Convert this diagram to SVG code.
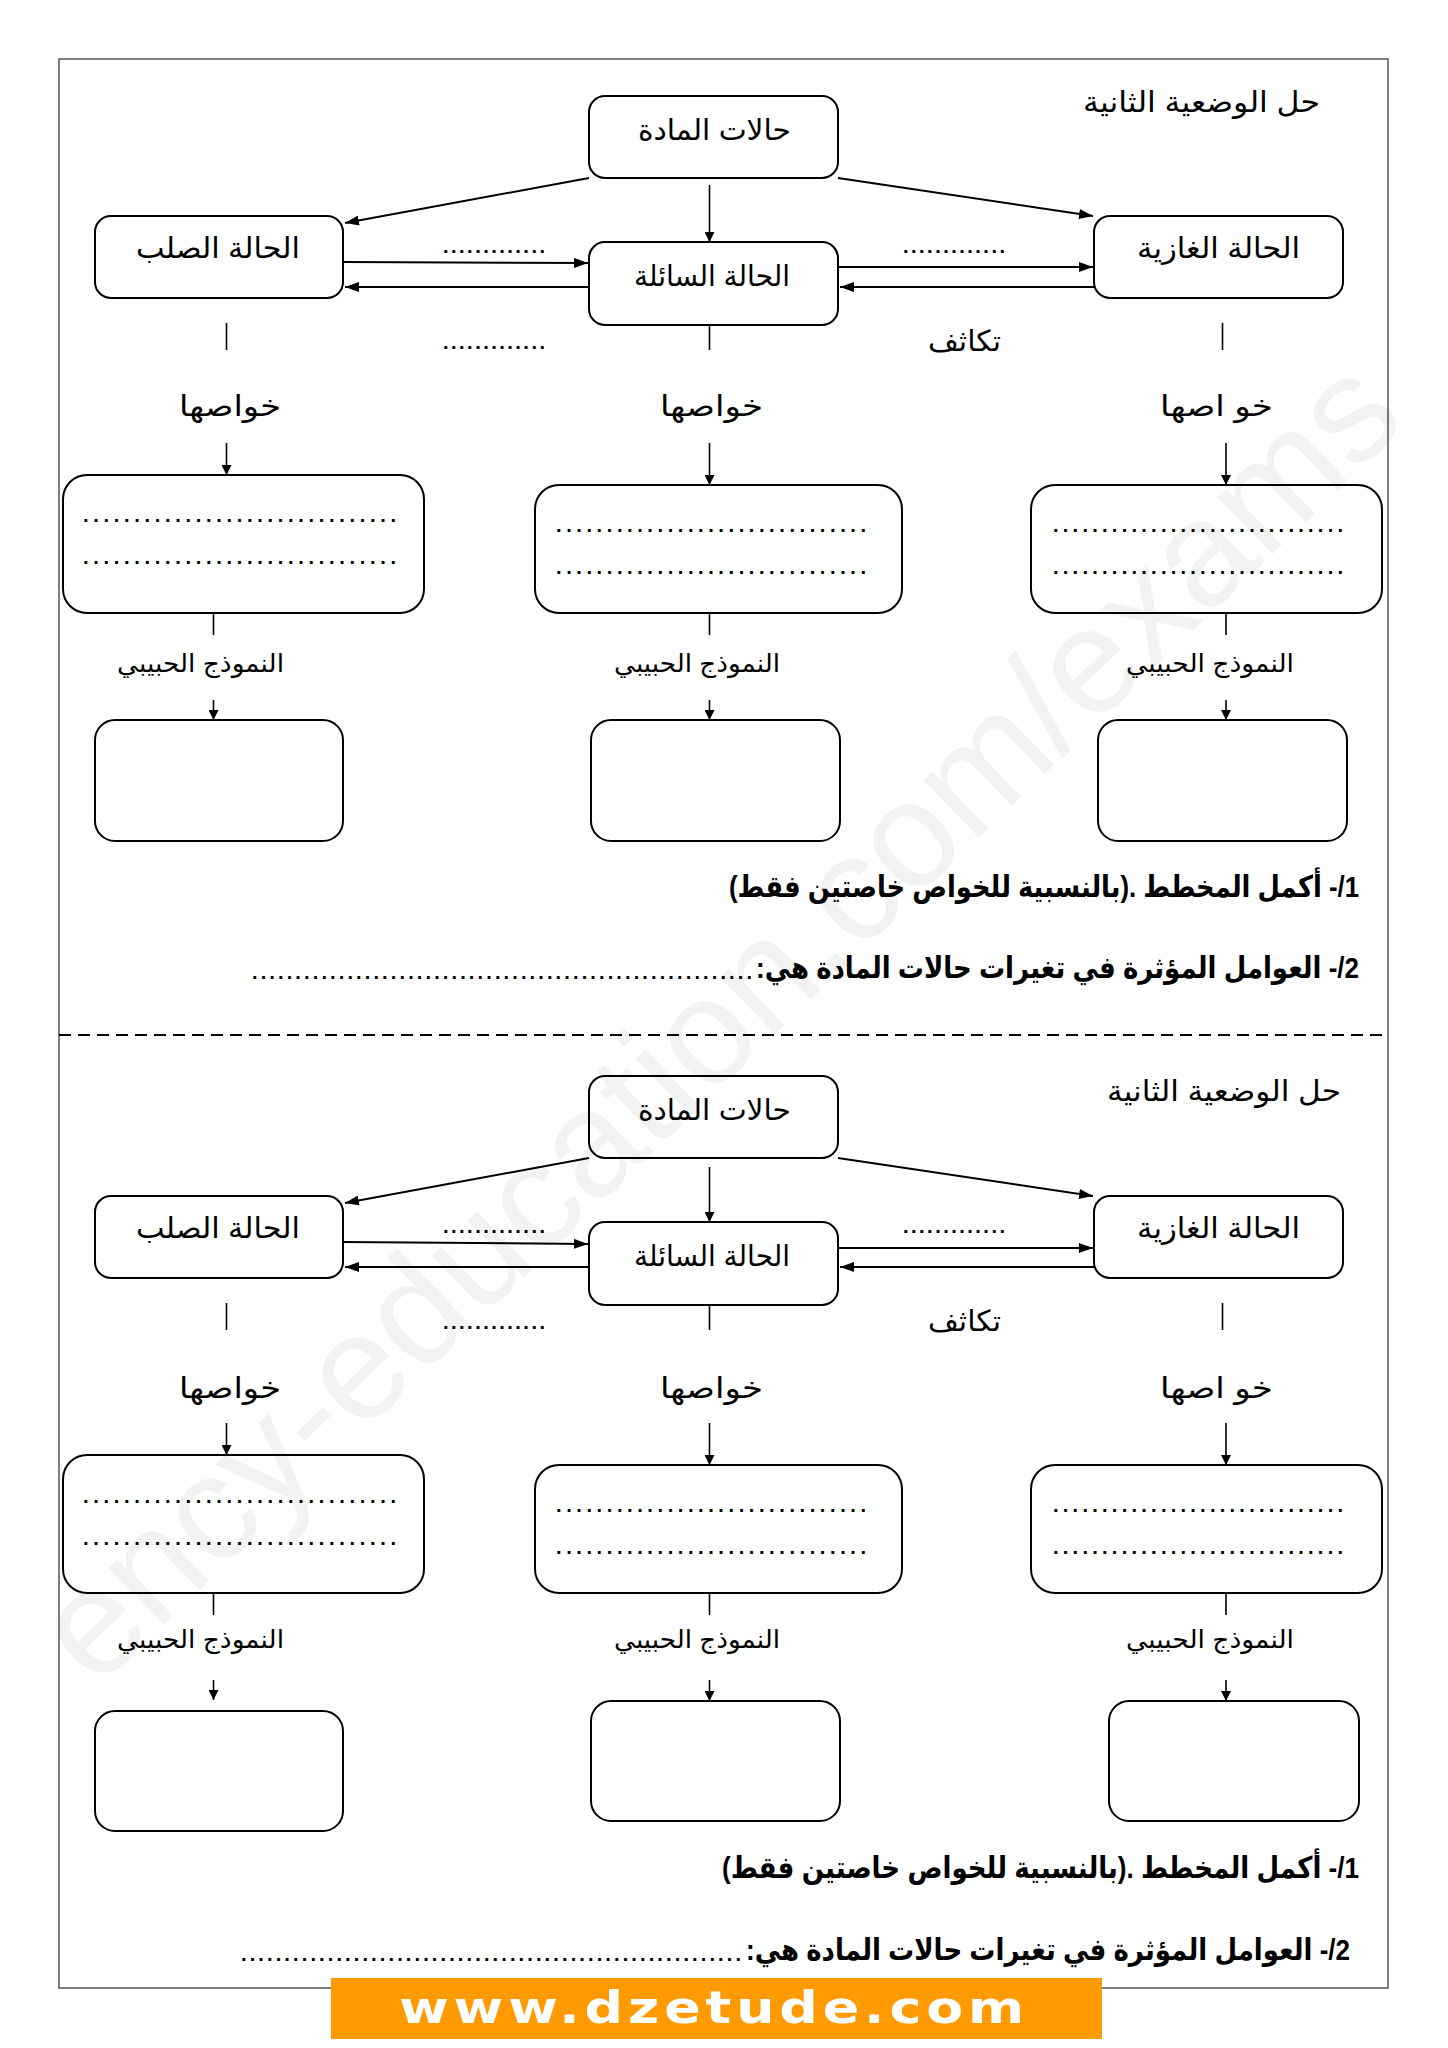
<svg xmlns="http://www.w3.org/2000/svg" width="1448" height="2048" viewBox="0 0 1448 2048">
<style>
.box{fill:none;stroke:#000;stroke-width:2}
.ln{fill:none;stroke:#000;stroke-width:2}
.thin{fill:none;stroke:#000;stroke-width:1.6}
.ar{font-family:"Liberation Sans","DejaVu Sans",sans-serif;fill:#000}
.lbl{font-size:29px}
.sm{font-size:25px}
.q{font-size:30px;font-weight:bold}
.dots{font-family:"Liberation Sans",sans-serif;font-size:20px;font-weight:bold;fill:#000}
</style>
<defs>
<marker id="ah" viewBox="0 0 14 10" refX="14" refY="5" markerWidth="14" markerHeight="10" markerUnits="userSpaceOnUse" orient="auto"><path d="M0,0 L14,5 L0,10 z" fill="#000"/></marker>
<marker id="ahs" viewBox="0 0 10 10" refX="10" refY="5" markerWidth="10" markerHeight="10" markerUnits="userSpaceOnUse" orient="auto"><path d="M0,0 L10,5 L0,10 z" fill="#000"/></marker>
</defs>
<rect width="1448" height="2048" fill="#fff"/>
<rect x="59" y="59" width="1329" height="1929" fill="none" stroke="#555" stroke-width="1.5"/>
<line x1="59" y1="1035" x2="1388" y2="1035" stroke="#000" stroke-width="2" stroke-dasharray="12,7"/>

<!-- Section 1 -->
<text class="ar lbl" x="1083" y="112" textLength="237" lengthAdjust="spacingAndGlyphs">حل الوضعية الثانية</text>
<g id="s1-top"><rect class="box" x="589" y="96" width="249" height="82" rx="16"/><text class="ar lbl" x="638" y="140" textLength="153" lengthAdjust="spacingAndGlyphs">حالات المادة</text></g>
<g id="s1-solid"><rect class="box" x="95" y="216" width="248" height="82" rx="16"/><text class="ar lbl" x="136" y="258" textLength="164" lengthAdjust="spacingAndGlyphs">الحالة الصلب</text></g>
<g id="s1-liquid"><rect class="box" x="589" y="242" width="249" height="83" rx="16"/><text class="ar lbl" x="634" y="286" textLength="156" lengthAdjust="spacingAndGlyphs">الحالة السائلة</text></g>
<g id="s1-gas"><rect class="box" x="1094" y="216" width="249" height="82" rx="16"/><text class="ar lbl" x="1137" y="258" textLength="163" lengthAdjust="spacingAndGlyphs">الحالة الغازية</text></g>
<text class="dots" x="443" y="253" textLength="102" lengthAdjust="spacing">.............</text>
<text class="dots" x="903" y="253" textLength="102" lengthAdjust="spacing">.............</text>
<text class="dots" x="443" y="349" textLength="102" lengthAdjust="spacing">.............</text>
<text class="ar lbl" x="928" y="351" textLength="73" lengthAdjust="spacingAndGlyphs">تكاثف</text>
<text class="ar lbl" x="179" y="416" textLength="102" lengthAdjust="spacingAndGlyphs">خواصها</text>
<text class="ar lbl" x="660" y="416" textLength="103" lengthAdjust="spacingAndGlyphs">خواصها</text>
<text class="ar lbl" x="1160" y="416" textLength="113" lengthAdjust="spacingAndGlyphs">خو اصها</text>
<g id="s1-prop-solid"><rect class="box" x="63" y="475" width="361" height="138" rx="24"/><text class="dots" x="83" y="522" textLength="313" lengthAdjust="spacing">...............................</text><text class="dots" x="83" y="564" textLength="313" lengthAdjust="spacing">...............................</text></g>
<g id="s1-prop-liquid"><rect class="box" x="535" y="485" width="367" height="128" rx="24"/><text class="dots" x="556" y="532" textLength="310" lengthAdjust="spacing">...............................</text><text class="dots" x="556" y="574" textLength="310" lengthAdjust="spacing">...............................</text></g>
<g id="s1-prop-gas"><rect class="box" x="1031" y="485" width="351" height="128" rx="24"/><text class="dots" x="1053" y="532" textLength="290" lengthAdjust="spacing">..............................</text><text class="dots" x="1053" y="574" textLength="290" lengthAdjust="spacing">..............................</text></g>
<text class="ar sm" x="117" y="672" textLength="167" lengthAdjust="spacingAndGlyphs">النموذج الحبيبي</text>
<text class="ar sm" x="614" y="672" textLength="166" lengthAdjust="spacingAndGlyphs">النموذج الحبيبي</text>
<text class="ar sm" x="1126" y="672" textLength="168" lengthAdjust="spacingAndGlyphs">النموذج الحبيبي</text>
<g id="s1-model-solid"><rect class="box" x="95" y="720" width="248" height="121" rx="20"/></g>
<g id="s1-model-liquid"><rect class="box" x="591" y="720" width="249" height="121" rx="20"/></g>
<g id="s1-model-gas"><rect class="box" x="1098" y="720" width="249" height="121" rx="20"/></g>
<text class="ar q" x="1359" y="897" direction="rtl" text-anchor="start" textLength="630" lengthAdjust="spacingAndGlyphs">1/- أكمل المخطط .(بالنسبية للخواص خاصتين فقط)</text>
<text class="ar q" x="1359" y="978" direction="rtl" text-anchor="start" textLength="603" lengthAdjust="spacingAndGlyphs">2/- العوامل المؤثرة في تغيرات حالات المادة هي:</text>
<text class="dots" x="252" y="979" textLength="500" lengthAdjust="spacing">..........................................................</text>

<!-- Section 2 -->
<text class="ar lbl" x="1107" y="1101" textLength="234" lengthAdjust="spacingAndGlyphs">حل الوضعية الثانية</text>
<g id="s2-top"><rect class="box" x="589" y="1076" width="249" height="82" rx="16"/><text class="ar lbl" x="638" y="1120" textLength="153" lengthAdjust="spacingAndGlyphs">حالات المادة</text></g>
<g id="s2-solid"><rect class="box" x="95" y="1196" width="248" height="82" rx="16"/><text class="ar lbl" x="136" y="1238" textLength="164" lengthAdjust="spacingAndGlyphs">الحالة الصلب</text></g>
<g id="s2-liquid"><rect class="box" x="589" y="1222" width="249" height="83" rx="16"/><text class="ar lbl" x="634" y="1266" textLength="156" lengthAdjust="spacingAndGlyphs">الحالة السائلة</text></g>
<g id="s2-gas"><rect class="box" x="1094" y="1196" width="249" height="82" rx="16"/><text class="ar lbl" x="1137" y="1238" textLength="163" lengthAdjust="spacingAndGlyphs">الحالة الغازية</text></g>
<text class="dots" x="443" y="1233" textLength="102" lengthAdjust="spacing">.............</text>
<text class="dots" x="903" y="1233" textLength="102" lengthAdjust="spacing">.............</text>
<text class="dots" x="443" y="1329" textLength="102" lengthAdjust="spacing">.............</text>
<text class="ar lbl" x="928" y="1331" textLength="73" lengthAdjust="spacingAndGlyphs">تكاثف</text>
<text class="ar lbl" x="179" y="1398" textLength="102" lengthAdjust="spacingAndGlyphs">خواصها</text>
<text class="ar lbl" x="660" y="1398" textLength="103" lengthAdjust="spacingAndGlyphs">خواصها</text>
<text class="ar lbl" x="1160" y="1398" textLength="113" lengthAdjust="spacingAndGlyphs">خو اصها</text>
<g id="s2-prop-solid"><rect class="box" x="63" y="1455" width="361" height="138" rx="24"/><text class="dots" x="83" y="1503" textLength="313" lengthAdjust="spacing">...............................</text><text class="dots" x="83" y="1545" textLength="313" lengthAdjust="spacing">...............................</text></g>
<g id="s2-prop-liquid"><rect class="box" x="535" y="1465" width="367" height="128" rx="24"/><text class="dots" x="556" y="1512" textLength="310" lengthAdjust="spacing">...............................</text><text class="dots" x="556" y="1554" textLength="310" lengthAdjust="spacing">...............................</text></g>
<g id="s2-prop-gas"><rect class="box" x="1031" y="1465" width="351" height="128" rx="24"/><text class="dots" x="1053" y="1512" textLength="290" lengthAdjust="spacing">..............................</text><text class="dots" x="1053" y="1554" textLength="290" lengthAdjust="spacing">..............................</text></g>
<text class="ar sm" x="117" y="1648" textLength="167" lengthAdjust="spacingAndGlyphs">النموذج الحبيبي</text>
<text class="ar sm" x="614" y="1648" textLength="166" lengthAdjust="spacingAndGlyphs">النموذج الحبيبي</text>
<text class="ar sm" x="1126" y="1648" textLength="168" lengthAdjust="spacingAndGlyphs">النموذج الحبيبي</text>
<g id="s2-model-solid"><rect class="box" x="95" y="1711" width="248" height="120" rx="20"/></g>
<g id="s2-model-liquid"><rect class="box" x="591" y="1701" width="249" height="120" rx="20"/></g>
<g id="s2-model-gas"><rect class="box" x="1109" y="1701" width="250" height="120" rx="20"/></g>
<text class="ar q" x="1359" y="1878" direction="rtl" text-anchor="start" textLength="637" lengthAdjust="spacingAndGlyphs">1/- أكمل المخطط .(بالنسبية للخواص خاصتين فقط)</text>
<text class="ar q" x="1350" y="1960" direction="rtl" text-anchor="start" textLength="604" lengthAdjust="spacingAndGlyphs">2/- العوامل المؤثرة في تغيرات حالات المادة هي:</text>
<text class="dots" x="241" y="1961" textLength="500" lengthAdjust="spacing">..........................................................</text>

<g id="connectors">
<path class="ln" d="M589,178 L345,223" marker-end="url(#ah)"/>
<path class="ln" d="M838,178 L1093,216" marker-end="url(#ah)"/>
<path class="thin" d="M709.5,185 L709.5,242" marker-end="url(#ahs)"/>
<path class="ln" d="M343,262 L588,263" marker-end="url(#ah)"/>
<path class="ln" d="M589,287 L345,287" marker-end="url(#ah)"/>
<path class="ln" d="M838,267 L1093,267" marker-end="url(#ah)"/>
<path class="ln" d="M1094,287 L840,287" marker-end="url(#ah)"/>
<path class="thin" d="M226.5,323 V350 M709.5,325 V350 M1222.5,323 V350"/>
<path class="thin" d="M226.5,443 V475" marker-end="url(#ahs)"/>
<path class="thin" d="M709.5,443 V485" marker-end="url(#ahs)"/>
<path class="thin" d="M1226,443 V485" marker-end="url(#ahs)"/>
<path class="thin" d="M213.5,613 V635 M709.5,613 V635 M1226,613 V635"/>
<path class="thin" d="M213.5,700 V720" marker-end="url(#ahs)"/>
<path class="thin" d="M709.5,700 V720" marker-end="url(#ahs)"/>
<path class="thin" d="M1226,700 V720" marker-end="url(#ahs)"/>

<path class="ln" d="M589,1158 L345,1203" marker-end="url(#ah)"/>
<path class="ln" d="M838,1158 L1093,1196" marker-end="url(#ah)"/>
<path class="thin" d="M709.5,1167 L709.5,1222" marker-end="url(#ahs)"/>
<path class="ln" d="M343,1242 L588,1244" marker-end="url(#ah)"/>
<path class="ln" d="M589,1267 L345,1267" marker-end="url(#ah)"/>
<path class="ln" d="M838,1248 L1093,1248" marker-end="url(#ah)"/>
<path class="ln" d="M1094,1267 L840,1267" marker-end="url(#ah)"/>
<path class="thin" d="M226.5,1303 V1330 M709.5,1305 V1330 M1222.5,1303 V1330"/>
<path class="thin" d="M226.5,1423 V1455" marker-end="url(#ahs)"/>
<path class="thin" d="M709.5,1423 V1465" marker-end="url(#ahs)"/>
<path class="thin" d="M1226,1423 V1465" marker-end="url(#ahs)"/>
<path class="thin" d="M213.5,1593 V1615 M709.5,1593 V1615 M1226,1593 V1615"/>
<path class="thin" d="M213.5,1680 V1700" marker-end="url(#ahs)"/>
<path class="thin" d="M709.5,1680 V1701" marker-end="url(#ahs)"/>
<path class="thin" d="M1226,1680 V1701" marker-end="url(#ahs)"/>
</g>

<text x="96" y="1690" transform="rotate(-44 96 1690)" font-family="Liberation Sans,sans-serif" font-size="150" fill="#000" fill-opacity="0.05" textLength="1825" lengthAdjust="spacing">ency-education.com/exams</text>

<rect x="331" y="1978" width="771" height="61" fill="#FF9A00"/>
<text x="399" y="2023" font-family="DejaVu Sans,sans-serif" font-weight="bold" font-size="44" letter-spacing="4" fill="#fff" textLength="630" lengthAdjust="spacingAndGlyphs">www.dzetude.com</text>
</svg>
